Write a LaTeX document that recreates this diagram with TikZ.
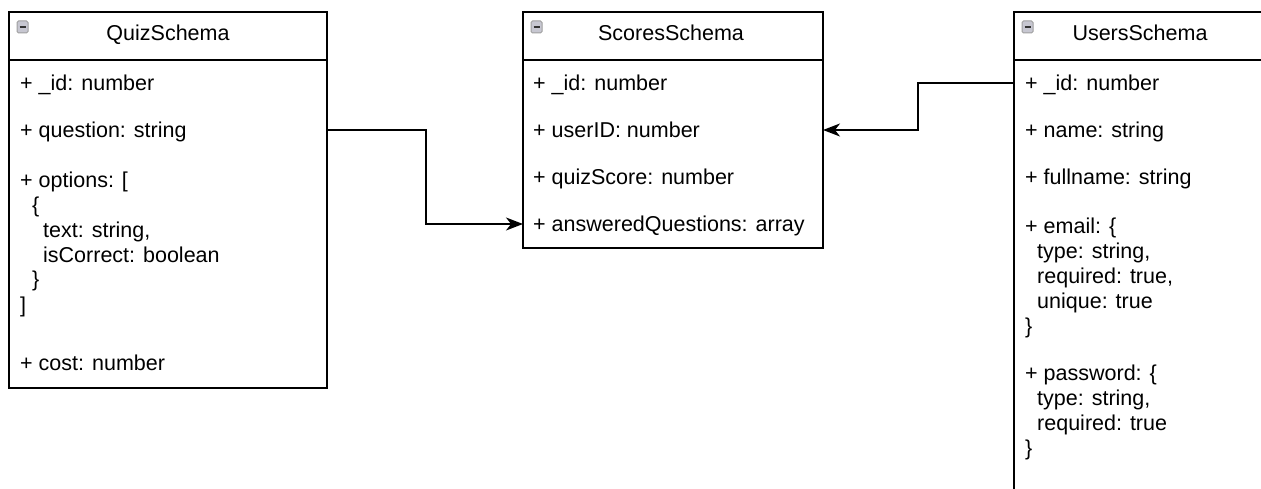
\documentclass[tikz,border=0pt]{standalone}
\usepackage{fontspec}
\setmainfont{Liberation Sans}
\usetikzlibrary{arrows.meta}

\begin{document}
\begin{tikzpicture}[x=1pt,y=-1pt,
    schema/.style={draw,line width=1.6pt,anchor=north west,inner sep=0,outer sep=0},
    title/.style={anchor=base,inner sep=0,font=\fontsize{21.5}{25}\selectfont},
    field/.style={anchor=base west,inner sep=0,text height=16pt,text depth=0pt,font=\fontsize{21.5}{25}\selectfont},
    block/.style={anchor=base west,inner sep=0,align=left,font=\fontsize{21.5}{25}\selectfont},
    icon/.style={draw=gray!75,fill=blue!10!gray!40,line width=1pt,rounded corners=1.5pt},
    link/.style={line width=1.4pt,-{Stealth[length=17pt,width=13pt,inset=5pt]}}]
    \path[fill=white,use as bounding box](0,0)rectangle(1261,489);

    \node[schema,minimum width=318pt,minimum height=376pt] (quiz) at (9,12) {};
    \node[schema,minimum width=300pt,minimum height=236pt] (scores) at (523,12) {};
    \node[schema,minimum width=252pt,minimum height=520pt] (users) at (1014,12) {};

    \foreach \b in {quiz,scores,users}{
        \draw[line width=1.6pt](\b.north west)++(0,48)--(\b.east|-0,60);
        \draw[icon,shift={(\b.north west)}](8,9)rectangle(19,21);
        \draw[gray!40!black,line width=2pt,shift={(\b.north west)}](10.5,15)--(16.5,15);
    }

    \node[title] (quizT) at (168,41) {QuizSchema};
    \node[title] (scoresT) at (671,41) {ScoresSchema};
    \node[title] (usersT) at (1140,41) {UsersSchema};

    \node[field] (qId) at (20,91) {+ \_id: number};
    \node[field] (qQuestion) at (20,138) {+ question: string};
    % base of a block is its last line
    \node[block] (qOptions) at (20,312) {+ options: [\\\hspace*{12pt}\{\\\hspace*{23pt}text: string,\\\hspace*{23pt}isCorrect: boolean\\\hspace*{12pt}\}\\]};
    \node[field] (qCost) at (20,370) {+ cost: number};

    \node[field] (sId) at (533,91) {+ \_id: number};
    \node[field] (sUser) at (533,138) {+ userID: number};
    \node[field] (sScore) at (533,185) {+ quizScore: number};
    \node[field] (sAnswered) at (533,232) {+ answeredQuestions: array};

    \node[field] (uId) at (1025,91) {+ \_id: number};
    \node[field] (uName) at (1025,138) {+ name: string};
    \node[field] (uFull) at (1025,185) {+ fullname: string};
    \node[block] (uEmail) at (1025,333) {+ email: \{\\\hspace*{12pt}type: string,\\\hspace*{12pt}required: true,\\\hspace*{12pt}unique: true\\\}};
    \node[block] (uPass) at (1025,455) {+ password: \{\\\hspace*{12pt}type: string,\\\hspace*{12pt}required: true\\\}};

    \coordinate (elbowA) at (426,0);
    \coordinate (elbowB) at (918,0);
    \draw[link](quiz.east|-qQuestion)--(elbowA|-qQuestion)--(elbowA|-sAnswered)--(scores.west|-sAnswered);
    \draw[link](users.west|-uId)--(elbowB|-uId)--(elbowB|-sUser)--(scores.east|-sUser);
\end{tikzpicture}
\end{document}
